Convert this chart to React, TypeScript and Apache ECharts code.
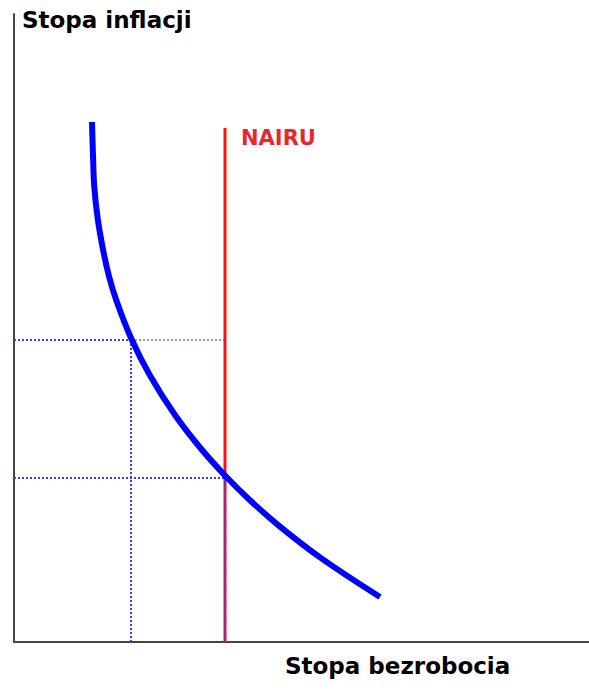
import React, { useEffect, useRef } from "react";
import * as echarts from "echarts";

// Phillips curve (arbitrary units: unemployment on x, inflation on y)
const curveX = [78, 79, 80.3, 83.9, 89.7, 95.2, 102.2, 117, 136, 161, 186, 211, 236, 266, 306, 366];
const curveY = [520, 487, 455, 422, 389, 365, 342, 304, 266.5, 227, 194.5, 166.5, 141.7, 115.4, 84.6, 45];
const nairuX = 211;
const nairuTop = 514;
const pointA = { x: 117, y: 302 };
const pointB = { x: 211, y: 164 };
const xMax = 575;
const yMax = 628;
const yAxisTitle = "Stopa inflacji";
const xAxisTitle = "Stopa bezrobocia";
const nairuLabel = "NAIRU";

export default function App() {
  const ref = useRef<HTMLDivElement>(null);
  useEffect(() => {
    document.body.style.margin = "0";
    document.body.style.overflow = "hidden";
    if (!ref.current) return;
    const chart = echarts.init(ref.current, undefined, { renderer: "svg" });
    const dotted = (data: number[][], opacity = 1) => ({
      type: "line",
      data,
      symbol: "none",
      silent: true,
      z: 3,
      lineStyle: { color: "#3b3bff", width: 2, type: [2, 2], opacity },
    });
    chart.setOption({
      animation: false,
      grid: { left: 14, right: 0, top: 14, bottom: 49 },
      xAxis: {
        type: "value",
        min: 0,
        max: xMax,
        axisLine: { show: true, lineStyle: { color: "#444", width: 2 } },
        axisTick: { show: false },
        axisLabel: { show: false },
        splitLine: { show: false },
      },
      yAxis: {
        type: "value",
        min: 0,
        max: yMax,
        axisLine: { show: true, lineStyle: { color: "#444", width: 2 } },
        axisTick: { show: false },
        axisLabel: { show: false },
        splitLine: { show: false },
      },
      graphic: [
        {
          type: "text",
          left: 22,
          top: 8,
          style: {
            text: yAxisTitle,
            font: "bold 23px 'DejaVu Sans'",
            fill: "#000",
          },
        },
        {
          type: "text",
          left: 285,
          top: 654,
          style: {
            text: xAxisTitle,
            font: "bold 23px 'DejaVu Sans'",
            fill: "#000",
          },
        },
      ],
      series: [
        {
          type: "line",
          data: [
            [nairuX, 0],
            [nairuX, nairuTop],
          ],
          symbol: "none",
          z: 2,
          lineStyle: { color: "#ff1010", width: 3 },
          endLabel: {
            show: true,
            formatter: nairuLabel,
            color: "#e8262b",
            fontFamily: "DejaVu Sans",
            fontWeight: "bold",
            fontSize: 21,
            offset: [8, 10],
          },
        },
        dotted([
          [0, pointA.y],
          [pointA.x, pointA.y],
        ]),
        dotted(
          [
            [pointA.x, pointA.y],
            [pointB.x, pointA.y],
          ],
          0.55
        ),
        dotted([
          [pointA.x, 0],
          [pointA.x, pointA.y],
        ]),
        dotted([
          [0, pointB.y],
          [pointB.x, pointB.y],
        ]),
        dotted([
          [pointB.x, 0],
          [pointB.x, pointB.y],
        ]),
        {
          type: "line",
          data: curveX.map((x, i) => [x, curveY[i]]),
          symbol: "none",
          smooth: 0.4,
          z: 4,
          lineStyle: { color: "#0000ff", width: 6 },
        },
      ],
    });
    return () => chart.dispose();
  }, []);
  return <div ref={ref} style={{ width: 589, height: 691 }} />;
}
